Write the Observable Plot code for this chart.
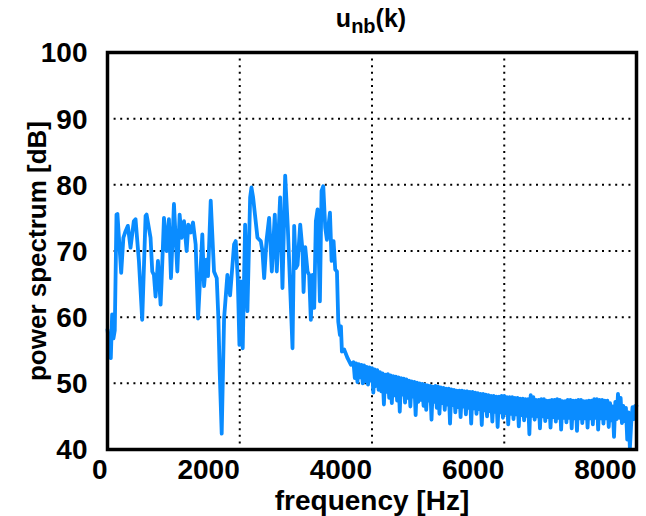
<!DOCTYPE html>
<html><head><meta charset="utf-8">
<script src="https://cdn.jsdelivr.net/npm/d3@7"></script>
<script src="https://cdn.jsdelivr.net/npm/@observablehq/plot@0.6"></script>
<style>body{margin:0;background:#fff}</style>
</head><body><div id="chart"></div>
<script>
const peakFreq = [0, 50, 70, 90, 110, 136, 150, 207, 240, 273, 308, 348, 398, 424, 475, 525, 576, 591, 651, 677, 702, 727, 763, 803, 818, 854, 894, 929, 960, 1005, 1056, 1091, 1121, 1157, 1197, 1222, 1258, 1293, 1333, 1370, 1434, 1460, 1495, 1520, 1561, 1611, 1652, 1677, 1697, 1727, 1763, 1813, 1854, 1914, 1939, 1970, 1995, 2015, 2045, 2081, 2116, 2157, 2177, 2202, 2268, 2318, 2343, 2369, 2404, 2444, 2485, 2530, 2560, 2611, 2646, 2687, 2727, 2798, 2823, 2848, 2874, 2914, 2950, 2965, 2990, 3025, 3050, 3075, 3101, 3126, 3151, 3177, 3212, 3237, 3263, 3293, 3318, 3364, 3389, 3419, 3444, 3470, 3490, 3515, 3530, 3545, 3580, 3631, 3682];
const peakDb = [58.1, 53.8, 60.4, 56.8, 58.0, 75.5, 75.6, 66.7, 72.0, 73.0, 73.8, 70.5, 74.5, 74.8, 68.5, 59.6, 75.3, 75.5, 72.0, 66.9, 66.4, 63.1, 68.5, 61.9, 65.4, 75.0, 70.0, 74.8, 65.9, 77.1, 66.9, 75.5, 72.0, 74.5, 70.0, 74.0, 72.8, 74.3, 71.0, 59.8, 72.5, 64.7, 68.7, 66.2, 77.6, 66.9, 65.9, 59.8, 51.7, 42.4, 59.8, 66.4, 63.3, 71.0, 71.5, 65.9, 55.8, 65.4, 55.3, 74.0, 60.9, 78.1, 79.6, 78.1, 72.0, 71.5, 70.0, 65.9, 71.5, 75.0, 66.9, 75.5, 66.9, 78.1, 64.4, 81.4, 73.5, 55.3, 73.8, 67.4, 67.9, 74.0, 70.0, 63.8, 70.6, 66.9, 66.4, 59.6, 66.4, 61.4, 74.5, 76.3, 62.4, 79.1, 79.8, 73.5, 71.7, 75.8, 68.5, 71.5, 67.2, 66.9, 59.3, 57.3, 58.6, 54.8, 55.1, 53.8, 52.8];
// dense high-frequency part: one bin every 20 Hz from 3720 Hz to 8000 Hz
const bandStart = 3720, bandStep = 20;
const bandDb = [
  53.2, 50.8, 53.0, 50.2, 52.9, 50.9, 52.8, 50.0, 52.7, 50.3,
  52.5, 49.8, 52.4, 50.4, 52.3, 48.6, 52.1, 49.6, 52.0, 49.0,
  51.7, 48.8, 51.5, 46.8, 51.3, 48.7, 51.4, 47.8, 51.2, 47.0,
  51.1, 48.2, 51.0, 47.4, 50.9, 45.7, 50.8, 48.3, 50.7, 47.1,
  50.6, 47.8, 50.4, 46.5, 50.3, 48.0, 50.2, 45.2, 50.1, 47.2,
  50.0, 47.5, 49.9, 46.6, 49.8, 46.0, 49.7, 47.4, 49.6, 44.5,
  49.5, 47.2, 49.6, 46.3, 49.5, 45.4, 49.4, 47.0, 49.3, 46.0,
  49.2, 46.8, 49.2, 43.9, 49.1, 46.7, 49.0, 45.6, 48.9, 46.4,
  48.9, 44.9, 48.9, 46.5, 48.8, 45.3, 48.8, 46.3, 48.7, 43.9,
  48.7, 46.2, 48.6, 45.4, 48.5, 46.1, 48.4, 43.7, 48.4, 45.9,
  48.3, 45.0, 48.2, 45.8, 48.1, 44.2, 48.1, 45.7, 48.0, 43.4,
  48.0, 45.6, 48.1, 44.8, 48.1, 45.5, 47.9, 43.8, 47.9, 45.4,
  47.9, 44.6, 47.8, 45.3, 47.8, 43.5, 47.7, 45.2, 47.7, 44.4,
  47.6, 45.1, 47.6, 42.3, 48.2, 45.1, 47.9, 44.5, 47.5, 45.0,
  47.5, 43.2, 47.6, 45.0, 47.6, 44.3, 47.4, 44.9, 47.4, 43.3,
  47.5, 44.9, 47.5, 44.2, 47.6, 44.8, 47.5, 43.0, 47.3, 44.8,
  47.3, 44.1, 47.5, 44.8, 47.5, 43.2, 47.4, 44.7, 47.4, 42.8,
  47.5, 44.7, 47.5, 44.0, 47.3, 44.7, 47.3, 43.3, 47.4, 44.7,
  47.4, 43.8, 47.6, 44.8, 47.6, 43.0, 47.5, 44.7, 47.5, 43.9,
  47.4, 44.7, 47.4, 43.4, 47.0, 44.4, 46.5, 41.9, 47.2, 44.6,
  48.4, 44.8, 47.8, 44.0, 46.6, 44.3, 46.3, 41.5, 45.6, 40.2,
  44.0, 46.4, 44.6, 46.6, 46.6
];
const xTicks = [0, 2000, 4000, 6000, 8000];
const yTicks = [40, 50, 60, 70, 80, 90, 100];
const xGrid = [2000, 4000, 6000];
const yGrid = [50, 60, 70, 80, 90];

const data = peakFreq.map((f, i) => ({f, db: peakDb[i]}))
  .concat(bandDb.map((db, i) => ({f: bandStart + i * bandStep, db})));

const font = "'Liberation Sans', Arial, Helvetica, sans-serif";
const plot = Plot.plot({
  width: 646, height: 516,
  marginLeft: 107, marginRight: 10, marginTop: 52, marginBottom: 67,
  x: {domain: [0, 8000], axis: null},
  y: {domain: [40, 100], axis: null},
  style: {fontFamily: font, fontSize: "28px", background: "white", color: "black"},
  marks: [
    Plot.ruleX(xGrid, {stroke: "black", strokeWidth: 2, strokeDasharray: "2,4.6"}),
    Plot.ruleY(yGrid, {stroke: "black", strokeWidth: 2, strokeDasharray: "2,4.6"}),
    Plot.line(data, {x: "f", y: "db", stroke: "#0a8cff", strokeWidth: 3.8, strokeLinejoin: "round"}),
    Plot.frame({stroke: "black", strokeWidth: 3.5}),
    Plot.text(xTicks, {x: d => d, text: d => String(d), frameAnchor: "bottom", textAnchor: "end", lineAnchor: "top", dy: 10, fontSize: 28, fontWeight: "bold", fill: "black"}),
    Plot.text(yTicks, {y: d => d, text: d => String(d), frameAnchor: "left", textAnchor: "end", lineAnchor: "middle", dx: -20, dy: 1, fontSize: 28, fontWeight: "bold", fill: "black"}),
    Plot.text(["frequency [Hz]"], {frameAnchor: "bottom", textAnchor: "middle", lineAnchor: "bottom", dy: 60, fontSize: 28, fontWeight: "bold", fill: "black"}),
    Plot.text(["power spectrum [dB]"], {frameAnchor: "left", textAnchor: "middle", lineAnchor: "bottom", rotate: -90, dx: -62, fontSize: 26, fontWeight: "bold", fill: "black"})
  ]
});

const svg = d3.select(plot);
const title = svg.append("text")
  .attr("x", 371).attr("y", 27)
  .attr("text-anchor", "middle")
  .attr("font-family", font)
  .attr("font-weight", "bold")
  .attr("font-size", 25)
  .attr("fill", "black");
title.append("tspan").text("u");
title.append("tspan").attr("font-size", 20).attr("dy", 6).text("nb");
title.append("tspan").attr("dy", -6).text("(k)");

document.getElementById("chart").appendChild(plot);
</script>
</body></html>
